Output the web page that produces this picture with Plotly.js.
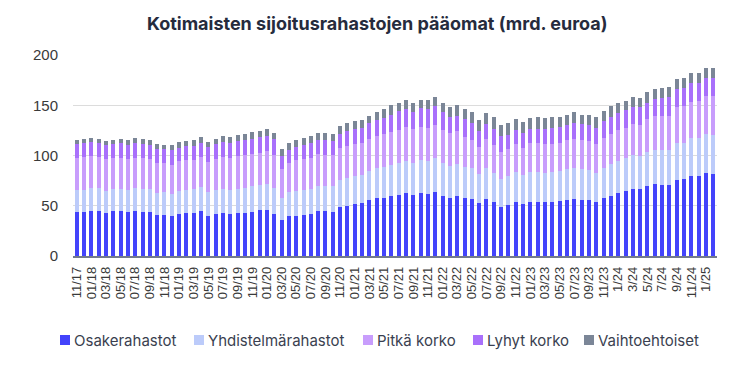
<!DOCTYPE html>
<html>
<head>
<meta charset="utf-8">
<script src="https://cdn.plot.ly/plotly-3.0.1.min.js"></script>
<style>html,body{margin:0;padding:0;background:#fff;}#chart{width:744px;height:369px;}</style>
</head>
<body>
<div id="chart"></div>
<script>
const categories = [
"11/17","12/17",
"01/18","02/18","03/18","04/18","05/18","06/18","07/18","08/18","09/18","10/18","11/18","12/18",
"01/19","02/19","03/19","04/19","05/19","06/19","07/19","08/19","09/19","10/19","11/19","12/19",
"01/20","02/20","03/20","04/20","05/20","06/20","07/20","08/20","09/20","10/20","11/20","12/20",
"01/21","02/21","03/21","04/21","05/21","06/21","07/21","08/21","09/21","10/21","11/21","12/21",
"01/22","02/22","03/22","04/22","05/22","06/22","07/22","08/22","09/22","10/22","11/22","12/22",
"01/23","02/23","03/23","04/23","05/23","06/23","07/23","08/23","09/23","10/23","11/23","12/23",
"1/24","2/24","3/24","4/24","5/24","6/24","7/24","8/24","9/24","10/24","11/24","12/24",
"1/25","2/25"];

const seriesNames = ["Osakerahastot","Yhdistelmärahastot","Pitkä korko","Lyhyt korko","Vaihtoehtoiset"];

const osakerahastot = [
43.6,43.6,44.6,44.6,42.6,44.6,44.6,43.6,44.6,43.6,
43.6,40.7,40.7,39.7,42.0,42.6,42.6,44.6,40.0,41.7,
42.6,41.7,42.6,42.8,43.6,45.6,45.6,41.8,35.7,39.7,
39.7,40.7,41.7,44.6,44.6,43.6,48.6,49.6,51.6,52.6,
55.5,57.5,57.5,59.5,60.5,62.5,60.5,62.5,61.5,63.5,
59.5,57.5,59.5,57.5,56.5,52.6,56.5,53.6,48.6,50.6,
53.6,51.6,53.6,53.6,53.6,53.6,54.5,55.5,56.5,55.5,
55.5,53.6,57.5,59.5,62.5,64.5,66.4,66.4,69.4,71.4,
70.4,70.4,75.4,76.4,79.3,79.3,82.3,81.3];

const yhdistelmarahastot = [
21.9,22.5,23.2,23.2,21.9,21.8,21.8,21.9,23.2,23.2,
22.8,22.1,23.1,22.4,22.5,22.9,23.8,24.2,23.5,23.9,
24.0,23.9,24.0,24.8,26.0,24.9,25.9,25.7,21.8,23.8,
24.8,24.8,24.7,24.8,24.8,25.8,26.8,27.8,27.7,27.7,
28.8,29.8,30.8,30.7,31.7,31.7,31.7,32.7,32.7,33.7,
32.7,31.8,31.7,30.8,30.8,28.7,30.8,28.9,27.8,28.7,
29.7,28.7,29.7,29.7,28.7,29.7,29.8,30.8,30.8,30.8,
29.8,29.2,29.8,31.7,31.7,32.7,33.8,32.8,33.6,33.7,
35.2,34.7,36.7,35.7,37.7,37.7,38.7,38.7];

const pitkaKorko = [
32.0,32.4,31.7,30.7,32.0,31.1,31.1,31.0,29.7,30.7,
30.1,29.8,28.8,28.5,29.7,30.0,29.1,29.7,29.7,30.8,
31.7,31.7,32.7,32.7,31.7,31.8,32.8,32.6,28.8,29.1,
31.0,31.0,31.1,31.8,30.8,30.8,31.7,31.7,31.8,31.8,
31.7,31.7,32.7,32.7,32.7,33.7,33.7,32.7,32.7,32.7,
32.7,32.7,32.8,30.2,28.2,26.8,28.7,27.5,26.7,26.8,
27.8,26.8,28.8,28.8,28.8,27.8,27.8,28.7,28.7,28.7,
28.7,28.3,29.7,29.8,30.8,29.7,30.7,30.7,33.5,34.2,
33.7,34.7,36.2,36.7,36.7,37.7,38.7,39.7];

const lyhytKorko = [
13.9,13.9,13.9,13.9,13.9,13.9,14.6,13.6,14.6,13.9,
13.6,13.5,13.5,14.5,13.2,13.6,13.6,13.9,14.8,14.6,
14.8,14.8,14.7,14.9,14.7,15.7,14.7,15.9,13.2,12.5,
12.6,13.6,14.6,13.8,14.8,13.8,13.9,14.9,14.9,14.8,
15.9,15.9,15.9,17.9,18.9,17.9,16.9,18.9,18.9,18.9,
17.9,15.9,15.8,17.4,16.4,15.9,14.9,16.4,15.9,13.9,
13.9,14.9,13.9,13.9,14.9,15.8,15.8,14.9,15.9,15.9,
15.9,15.8,16.9,16.9,16.8,17.9,16.9,17.9,15.7,16.9,
18.4,18.9,18.3,18.8,18.9,17.9,17.8,17.8];

const vaihtoehtoiset = [
4.0,3.6,3.6,3.6,3.6,4.0,3.9,4.9,4.9,4.6,
5.3,5.3,4.3,5.3,5.7,4.9,6.3,5.6,5.1,5.8,
5.9,5.9,6.0,5.8,7.0,6.0,7.0,6.0,6.6,7.0,
6.9,6.9,6.9,7.0,7.0,7.0,7.9,7.9,7.9,8.0,
7.9,7.9,8.9,9.0,8.9,9.9,9.9,8.9,9.9,9.9,
9.9,9.9,10.0,9.9,10.9,10.9,10.9,11.5,10.9,11.9,
10.9,10.9,10.9,11.9,10.9,11.0,10.9,10.9,10.9,9.9,
10.9,11.0,9.9,10.9,10.9,9.9,10.9,9.9,11.4,10.4,
9.9,9.9,9.9,9.9,9.9,9.9,9.9,9.9];

const colors = ["#4343fb","#bccbfa","#c89dfc","#a970fb","#7b8697"];
const values = [osakerahastot, yhdistelmarahastot, pitkaKorko, lyhytKorko, vaihtoehtoiset];

const tickvals = categories.filter((c, i) => i % 2 === 0);

const traces = values.map((v, k) => ({
  type: "bar",
  x: categories,
  y: v,
  name: seriesNames[k],
  marker: {color: colors[k], line: {width: 0}},
  showlegend: false
}));

// Manual legend layout (pixel positions in the 744x369 page)
const W = 744, H = 369;
const M = {l: 73, r: 27, t: 54, b: 113};
const plotW = W - M.l - M.r, plotH = H - M.t - M.b;
const px2x = p => (p - M.l) / plotW;
const py2y = p => (H - M.b - p) / plotH;
const legendSquareX = [60, 194, 363, 473, 584];
const legendCenterY = 340;
const sq = 10;

const shapes = seriesNames.map((n, k) => ({
  type: "rect", xref: "paper", yref: "paper",
  x0: px2x(legendSquareX[k]), x1: px2x(legendSquareX[k] + sq),
  y0: py2y(legendCenterY + sq / 2), y1: py2y(legendCenterY - sq / 2),
  fillcolor: colors[k], line: {width: 0}
}));
const annotations = seriesNames.map((n, k) => ({
  text: n, xref: "paper", yref: "paper",
  x: px2x(legendSquareX[k] + sq + 2), y: py2y(legendCenterY),
  xanchor: "left", yanchor: "middle", showarrow: false,
  font: {family: "Inter, Roboto, sans-serif", size: 15, color: "#3a3f50"}
}));

const layout = {
  width: W, height: H,
  margin: M,
  paper_bgcolor: "#ffffff",
  plot_bgcolor: "#ffffff",
  barmode: "stack",
  bargap: 0.45,
  title: {
    text: "<b>Kotimaisten sijoitusrahastojen pääomat (mrd. euroa)</b>",
    font: {family: "Inter, Roboto, sans-serif", size: 18, color: "#262b3d"},
    x: 0.507, xanchor: "center", y: 0.937, yanchor: "middle"
  },
  font: {family: "Liberation Sans, Arial, sans-serif", color: "#3a3a3a"},
  xaxis: {
    type: "category",
    tickmode: "array",
    tickvals: tickvals,
    ticktext: tickvals,
    tickangle: -90,
    tickfont: {size: 13, color: "#3a3a3a"},
    ticks: "outside", ticklen: 4, tickcolor: "rgba(0,0,0,0)",
    showline: true, linecolor: "#737a8c", linewidth: 1.5,
    showgrid: false,
    fixedrange: true
  },
  yaxis: {
    range: [0, 201],
    tickvals: [0, 50, 100, 150, 200],
    tickfont: {size: 15, color: "#3a3a3a"},
    showgrid: true, gridcolor: "#dcdcdc", gridwidth: 1,
    zeroline: false,
    ticklabelstandoff: 14,
    fixedrange: true
  },
  showlegend: false,
  shapes: shapes,
  annotations: annotations
};

Plotly.newPlot("chart", traces, layout, {displayModeBar: false, staticPlot: true});
</script>
</body>
</html>
